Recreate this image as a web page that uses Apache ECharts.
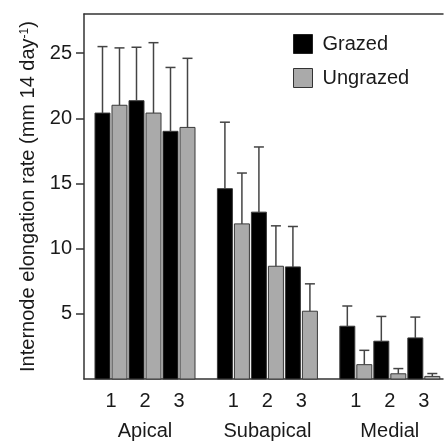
<!DOCTYPE html>
<html>
<head>
<meta charset="utf-8">
<script src="https://cdn.jsdelivr.net/npm/echarts@6/dist/echarts.min.js"></script>
<style>
  html, body { margin: 0; padding: 0; background: #fff; }
  #chart { width: 444px; height: 442px; }
</style>
</head>
<body>
<div id="chart"></div>
<script>
const groups = ['Apical', 'Subapical', 'Medial']
const subLabels = ['1', '2', '3']
const grazedMean = [20.4, 21.35, 19.0, 14.6, 12.8, 8.6, 4.05, 2.9, 3.15]
const grazedErr = [5.1, 4.1, 4.9, 5.1, 5.0, 3.1, 1.55, 1.9, 1.6]
const ungrazedMean = [21.0, 20.4, 19.3, 11.9, 8.65, 5.2, 1.1, 0.4, 0.2]
const ungrazedErr = [4.4, 5.4, 5.3, 3.9, 3.1, 2.1, 1.1, 0.4, 0.22]
const yTicks = [5, 10, 15, 20, 25]

// x position of each pair: 10 units per pair, 36 units per group
const xPos = []
const xLabel = {}
groups.forEach(function (g, gi) {
  subLabels.forEach(function (s, si) {
    const x = gi * 36 + si * 10
    xPos.push(x)
    xLabel[x] = s
  })
})
const groupPos = groups.map(function (g, gi) { return gi * 36 + 10 })
const groupLabel = {}
groupPos.forEach(function (p, i) { groupLabel[p] = groups[i] })

function makeData(mean, err) {
  return mean.map(function (m, i) { return [xPos[i], m, err[i]] })
}

function barRenderer(fill, side) {
  return function (params, api) {
    const x = api.value(0)
    const v = api.value(1)
    const e = api.value(2)
    const base = api.coord([x, 0])
    const top = api.coord([x, v])
    const errTop = api.coord([x, v + e])
    const left = side < 0 ? base[0] - 16 : base[0] + 1
    const cx = left + 7.5
    return {
      type: 'group',
      children: [
        {
          type: 'rect',
          shape: { x: left, y: top[1], width: 15, height: base[1] - top[1] },
          style: { fill: fill, stroke: '#3a3a3a', lineWidth: 1 }
        },
        {
          type: 'line',
          shape: { x1: cx, y1: top[1], x2: cx, y2: errTop[1] },
          style: { stroke: '#444', lineWidth: 1.5 }
        },
        {
          type: 'line',
          shape: { x1: cx - 5, y1: errTop[1], x2: cx + 5, y2: errTop[1] },
          style: { stroke: '#444', lineWidth: 1.5 }
        }
      ]
    }
  }
}

const myChart = echarts.init(document.getElementById('chart'))
const font = 'Liberation Sans, Arial, sans-serif'

const option = {
  backgroundColor: '#fff',
  animation: false,
  textStyle: { fontFamily: font },
  grid: { left: 84, right: 1, top: 14, bottom: 63 },
  legend: {
    orient: 'vertical',
    left: 288,
    top: 29,
    itemWidth: 19,
    itemHeight: 19,
    itemGap: 14,
    textStyle: { fontSize: 20, color: '#1a1a1a', fontFamily: font, padding: [0, 0, 0, 5] },
    data: [
      { name: 'Grazed', icon: 'rect', itemStyle: { color: '#000', borderColor: '#222', borderWidth: 1 } },
      { name: 'Ungrazed', icon: 'rect', itemStyle: { color: '#aaa', borderColor: '#333', borderWidth: 1 } }
    ]
  },
  xAxis: [
    {
      type: 'value',
      min: -7.94,
      max: 97.64,
      position: 'bottom',
      axisLine: { show: true, onZero: false, lineStyle: { color: '#333', width: 1.5 } },
      axisTick: { show: false },
      splitLine: { show: false },
      axisLabel: {
        customValues: xPos,
        margin: 12,
        fontSize: 20,
        color: '#1a1a1a',
        fontFamily: font,
        formatter: function (v) { return xLabel[Math.round(v)] || '' }
      }
    },
    {
      type: 'value',
      min: -7.94,
      max: 97.64,
      position: 'bottom',
      offset: 30,
      axisLine: { show: false },
      axisTick: { show: false },
      splitLine: { show: false },
      axisLabel: {
        customValues: groupPos,
        margin: 12,
        fontSize: 20,
        color: '#1a1a1a',
        fontFamily: font,
        formatter: function (v) { return groupLabel[Math.round(v)] || '' }
      }
    },
    {
      type: 'value',
      min: -7.94,
      max: 97.64,
      position: 'top',
      axisLine: { show: true, onZero: false, lineStyle: { color: '#333', width: 1.5 } },
      axisTick: { show: false },
      axisLabel: { show: false },
      splitLine: { show: false }
    }
  ],
  yAxis: {
    type: 'value',
    min: 0,
    max: 28,
    interval: 5,
    name: '{a|Internode elongation rate (mm 14 day}{s|-1}{a|)}',
    nameLocation: 'middle',
    nameGap: 44,
    nameTextStyle: {
      rich: {
        a: { fontSize: 20, color: '#1a1a1a', fontFamily: font },
        s: { fontSize: 12, color: '#1a1a1a', fontFamily: font, verticalAlign: 'top', padding: [0, 0, 8, 0] }
      }
    },
    axisLine: { show: true, onZero: false, lineStyle: { color: '#333', width: 1.5 } },
    axisTick: { show: true, length: 8, customValues: yTicks, lineStyle: { color: '#333', width: 1.5 } },
    splitLine: { show: false },
    axisLabel: {
      customValues: yTicks,
      margin: 12,
      fontSize: 20,
      color: '#1a1a1a',
      fontFamily: font
    }
  },
  series: [
    {
      name: 'Grazed',
      type: 'custom',
      xAxisIndex: 0,
      itemStyle: { color: '#000' },
      renderItem: barRenderer('#000', -1),
      encode: { x: 0, y: [1, 2] },
      data: makeData(grazedMean, grazedErr)
    },
    {
      name: 'Ungrazed',
      type: 'custom',
      xAxisIndex: 0,
      itemStyle: { color: '#aaa' },
      renderItem: barRenderer('#aaa', 1),
      encode: { x: 0, y: [1, 2] },
      data: makeData(ungrazedMean, ungrazedErr)
    }
  ]
}
myChart.setOption(option)
window.addEventListener('resize', function () {
  myChart.resize()
})
</script>
</body>
</html>
